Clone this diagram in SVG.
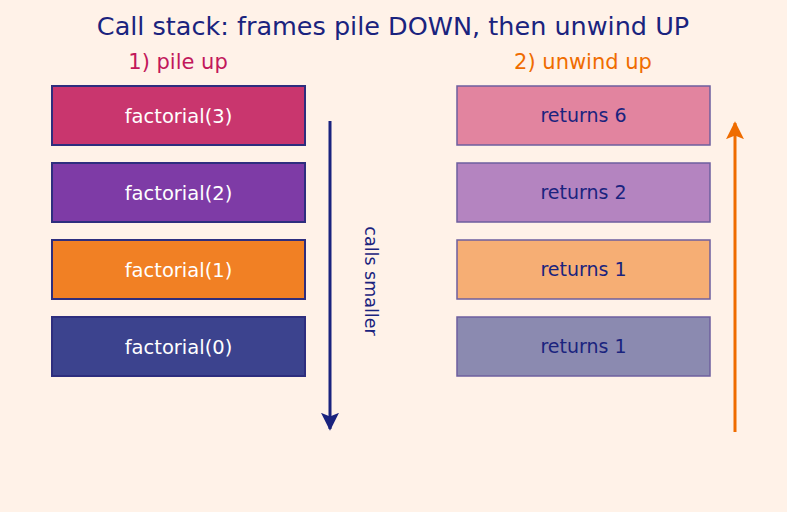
<svg xmlns="http://www.w3.org/2000/svg" width="787" height="512" viewBox="0 0 787 512">
<style>
text{font-family:"DejaVu Sans","Liberation Sans",sans-serif;text-anchor:middle}
.frame{stroke:#2e2e7e;stroke-width:2}
.ret{stroke:#6e5f9e;stroke-width:1.5}
.ft{fill:#ffffff;font-size:19.5px}
.rt{fill:#1a237e;font-size:19px}
</style>
<defs>
<marker id="ahNavy" viewBox="0 0 10 10" refX="9" refY="5" markerWidth="6" markerHeight="6" orient="auto" markerUnits="strokeWidth"><path d="M0,0 L10,5 L0,10 L2,5 z" fill="#1a237e"/></marker>
<marker id="ahOrange" viewBox="0 0 10 10" refX="9" refY="5" markerWidth="6" markerHeight="6" orient="auto" markerUnits="strokeWidth"><path d="M0,0 L10,5 L0,10 L2,5 z" fill="#ef6c00"/></marker>
</defs>
<rect width="787" height="512" fill="#fff2e8"/>
<text x="393" y="35" font-size="25.5" fill="#1a237e">Call stack: frames pile DOWN, then unwind UP</text>
<text x="178" y="69" font-size="21" fill="#c2185b">1) pile up</text>
<text x="583" y="69" font-size="21" fill="#ef6c00">2) unwind up</text>
<g id="f3"><rect class="frame" x="52" y="86" width="253" height="59" fill="#c9366e"/><text class="ft" x="178.5" y="123">factorial(3)</text></g>
<g id="f2"><rect class="frame" x="52" y="163" width="253" height="59" fill="#7e3ba6"/><text class="ft" x="178.5" y="200">factorial(2)</text></g>
<g id="f1"><rect class="frame" x="52" y="240" width="253" height="59" fill="#f18024"/><text class="ft" x="178.5" y="277">factorial(1)</text></g>
<g id="f0"><rect class="frame" x="52" y="317" width="253" height="59" fill="#3c438e"/><text class="ft" x="178.5" y="354">factorial(0)</text></g>
<g id="r3"><rect class="ret" x="457" y="86" width="253" height="59" fill="#e2849f"/><text class="rt" x="583.5" y="122">returns 6</text></g>
<g id="r2"><rect class="ret" x="457" y="163" width="253" height="59" fill="#b484c0"/><text class="rt" x="583.5" y="199">returns 2</text></g>
<g id="r1"><rect class="ret" x="457" y="240" width="253" height="59" fill="#f6ae74"/><text class="rt" x="583.5" y="276">returns 1</text></g>
<g id="r0"><rect class="ret" x="457" y="317" width="253" height="59" fill="#8b8ab0"/><text class="rt" x="583.5" y="353">returns 1</text></g>
<g id="connectors">
<line x1="330" y1="121" x2="330" y2="429" stroke="#1a237e" stroke-width="3" marker-end="url(#ahNavy)"/>
<line x1="735" y1="432" x2="735" y2="123" stroke="#ef6c00" stroke-width="3" marker-end="url(#ahOrange)"/>
</g>
<text transform="translate(365,281) rotate(90)" font-size="17.5" fill="#1a237e">calls smaller</text>
</svg>
